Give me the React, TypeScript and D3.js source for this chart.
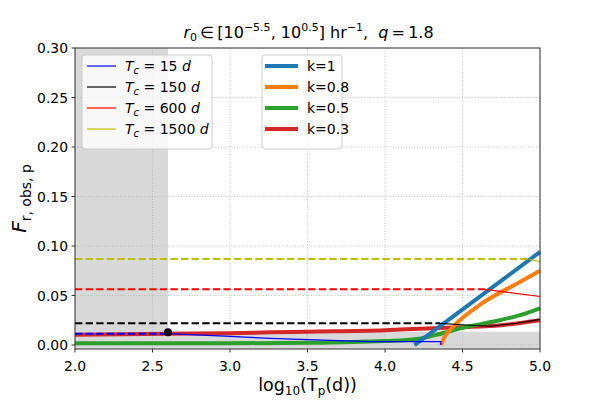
import React from "react";
import * as d3 from "d3";

// ---------- data ----------
const xTicks = [2.0, 2.5, 3.0, 3.5, 4.0, 4.5, 5.0];
const yTicks = [0.0, 0.05, 0.1, 0.15, 0.2, 0.25, 0.3];
const xDomain = [2, 5];
const yDomain = [-0.004, 0.3];

// thick k curves: [log10 Tp, F]
const kLabels = ["k=1", "k=0.8", "k=0.5", "k=0.3"];
const kColors = ["#1f77b4", "#ff7f0e", "#2ca02c", "#d62728"];
const k1: [number, number][] = [[4.19, 0.0], [5.0, 0.094]];
const k08: [number, number][] = [[4.362, 0.0], [4.38, 0.007], [4.44, 0.0185], [4.63, 0.0425], [4.85, 0.062], [5.0, 0.075]];
const k05: [number, number][] = [[2.0, 0.0018], [3.0, 0.0018], [3.5, 0.0022], [4.0, 0.004], [4.23, 0.0067], [4.31, 0.0095], [4.53, 0.0185], [4.74, 0.025], [4.91, 0.032], [5.0, 0.037]];
const k03: [number, number][] = [[2.0, 0.0105], [2.6, 0.0115], [3.0, 0.012], [3.26, 0.0128], [3.5, 0.0135], [4.0, 0.015], [4.23, 0.0165], [4.5, 0.018], [4.75, 0.02], [5.0, 0.025]];

// Tc curves: constant (dashed) part + solid part
const tcLabels = ["15", "150", "600", "1500"];
const tcColors = ["#0000ff", "#000000", "#ff0000", "#bfbf00"];
const tcLevels = [0.0115, 0.0219, 0.0563, 0.0869];
const tcBreaks = [2.6, 4.355, 4.645, 4.93];
const tc15: [number, number][] = [[2.6, 0.0115], [3.0, 0.0088], [3.26, 0.0067], [3.5, 0.0055], [3.9, 0.0035], [4.36, 0.0034], [4.36, 0.0]];
const tc150: [number, number][] = [[4.355, 0.0219], [4.5, 0.0205], [4.68, 0.019], [4.85, 0.022], [5.0, 0.026]];
const tc600: [number, number][] = [[4.645, 0.0563], [5.0, 0.049]];
const tc1500: [number, number][] = [[4.93, 0.0869], [5.0, 0.084]];

const dot: [number, number] = [2.6, 0.0128];
const shadeX = [2.0, 2.6];
const bandY = [-0.004, 0.0135];

// ---------- layout ----------
const W = 600, H = 400;
const L = 75, R = 540, T = 48, B = 349;
const FONT = "DejaVu Sans, sans-serif";

export default function App() {
  const x = d3.scaleLinear().domain(xDomain).range([L, R]);
  const y = d3.scaleLinear().domain(yDomain).range([B, T]);
  const line = d3.line<[number, number]>().x(d => x(d[0])).y(d => y(d[1]));
  const smooth = d3.line<[number, number]>().x(d => x(d[0])).y(d => y(d[1])).curve(d3.curveMonotoneX);

  const kSeries = [k1, k08, k05, k03];
  const tcSolid = [tc15, tc150, tc600, tc1500];
  const drawOrder = [3, 2, 1, 0];

  const legRows = [66, 87, 108, 129];

  return (
    <svg width={W} height={H} style={{ position: "absolute", left: 0, top: 0 }} fontFamily={FONT}>
      <rect x={0} y={0} width={W} height={H} fill="#fff" />
      {/* shaded regions */}
      <rect x={x(shadeX[0])} y={T} width={x(shadeX[1]) - x(shadeX[0])} height={B - T} fill="#d9d9d9" />
      <rect x={L} y={y(bandY[1])} width={R - L} height={y(bandY[0]) - y(bandY[1])} fill="#d9d9d9" />
      {/* grid */}
      {xTicks.map(t => (
        <line key={"gx" + t} x1={x(t)} x2={x(t)} y1={T} y2={B} stroke="#b0b0b0" strokeWidth={0.8} strokeDasharray="1,1.65" />
      ))}
      {yTicks.map(t => (
        <line key={"gy" + t} x1={L} x2={R} y1={y(t)} y2={y(t)} stroke="#b0b0b0" strokeWidth={0.8} strokeDasharray="1,1.65" />
      ))}
      {/* k curves */}
      {drawOrder.map(i => (
        <path key={"k" + i} d={smooth(kSeries[i]) || ""} fill="none" stroke={kColors[i]} strokeWidth={4} />
      ))}
      {/* Tc curves */}
      {tcLevels.map((lv, i) => (
        <g key={"tc" + i}>
          <path d={line([[xDomain[0], lv], [tcBreaks[i], lv]]) || ""} fill="none" stroke={tcColors[i]} strokeWidth={2} strokeDasharray="7.4,3.2" />
          <path d={line(tcSolid[i]) || ""} fill="none" stroke={tcColors[i]} strokeWidth={1.2} />
        </g>
      ))}
      <circle cx={x(dot[0])} cy={y(dot[1])} r={4} fill="#000" />
      {/* spines */}
      <rect x={L} y={T} width={R - L} height={B - T} fill="none" stroke="#333" strokeWidth={1} />
      {/* ticks */}
      {xTicks.map(t => (
        <g key={"tx" + t}>
          <line x1={x(t)} x2={x(t)} y1={B} y2={B + 3.5} stroke="#333" />
          <text x={x(t)} y={371} textAnchor="middle" fontSize={13.9}>{t.toFixed(1)}</text>
        </g>
      ))}
      {yTicks.map(t => (
        <g key={"ty" + t}>
          <line x1={L - 3.5} x2={L} y1={y(t)} y2={y(t)} stroke="#333" />
          <text x={L - 7} y={y(t) + 5} textAnchor="end" fontSize={13.9}>{t.toFixed(2)}</text>
        </g>
      ))}
      {/* title */}
      <text x={(L + R) / 2 + 1} y={38} textAnchor="middle" fontSize={16}>
        <tspan fontStyle="italic">r</tspan>
        <tspan fontSize={11} dy={3}>0</tspan>
        <tspan dy={-3}>{"\u2009\u2208\u2009[10"}</tspan>
        <tspan fontSize={11} dy={-7}>{"\u22125.5"}</tspan>
        <tspan dy={7}>{", 10"}</tspan>
        <tspan fontSize={11} dy={-7}>0.5</tspan>
        <tspan dy={7}>{"] hr"}</tspan>
        <tspan fontSize={11} dy={-7}>{"\u22121"}</tspan>
        <tspan dy={7}>{",\u00a0\u00a0"}</tspan>
        <tspan fontStyle="italic">q</tspan>
        <tspan>{"\u2009=\u20091.8"}</tspan>
      </text>
      {/* x label */}
      <text x={(L + R) / 2} y={391} textAnchor="middle" fontSize={17.5}>
        <tspan>log</tspan>
        <tspan fontSize={12} dy={4}>10</tspan>
        <tspan dy={-4}>(T</tspan>
        <tspan fontSize={12} dy={4}>p</tspan>
        <tspan dy={-4}>(d))</tspan>
      </text>
      {/* y label */}
      <text transform={`translate(26,${(T + B) / 2}) rotate(-90)`} textAnchor="middle" fontSize={20}>
        <tspan fontStyle="italic">F</tspan>
        <tspan fontSize={14} dy={5}>r, obs, p</tspan>
      </text>
      {/* legend 1 */}
      <rect x={82} y={55} width={130} height={94} rx={3} fill="#fff" fillOpacity={0.8} stroke="#cccccc" strokeWidth={1} />
      {tcLabels.map((lab, i) => (
        <g key={"l1" + i}>
          <line x1={87} x2={116} y1={legRows[i]} y2={legRows[i]} stroke={tcColors[i]} strokeWidth={1.2} />
          <text x={125} y={legRows[i] + 5} fontSize={14}>
            <tspan fontStyle="italic">T</tspan>
            <tspan fontSize={10} fontStyle="italic" dy={3}>c</tspan>
            <tspan dy={-3}>{"\u00a0=\u00a0" + lab + "\u00a0"}</tspan>
            <tspan fontStyle="italic">d</tspan>
          </text>
        </g>
      ))}
      {/* legend 2 */}
      <rect x={262} y={55} width={80} height={94} rx={3} fill="#fff" fillOpacity={0.8} stroke="#cccccc" strokeWidth={1} />
      {kLabels.map((lab, i) => (
        <g key={"l2" + i}>
          <line x1={265} x2={298} y1={legRows[i]} y2={legRows[i]} stroke={kColors[i]} strokeWidth={4} />
          <text x={307} y={legRows[i] + 5} fontSize={14}>{lab}</text>
        </g>
      ))}
    </svg>
  );
}
